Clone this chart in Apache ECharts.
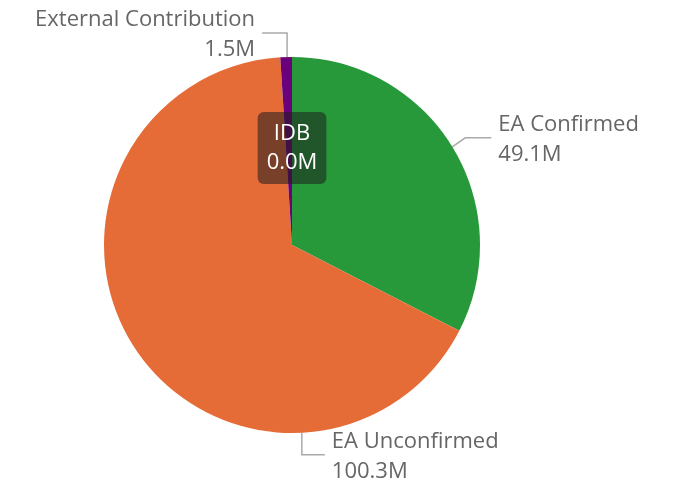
<!DOCTYPE html>
<html>
<head>
<meta charset="utf-8">
<script src="https://cdn.jsdelivr.net/npm/echarts@6/dist/echarts.min.js"></script>
<style>html,body{margin:0;padding:0;background:#fff}#c{width:678px;height:487px}</style>
</head>
<body>
<div id="c"></div>
<script>
const categories = ['EA Confirmed', 'EA Unconfirmed', 'External Contribution', 'IDB'];
const values = [49.1, 100.3, 1.5, 0.0];
const colors = ['#27993B', '#E66C37', '#6B007B', '#444444'];

const CX = 292, CY = 245, R = 188;
// label anchor layout: angle on the rim (deg, clockwise from top), line segment offsets, text side
const labelAnchors = {
  0: { ang: 58.5, d1: [13, -9], d2: 26, side: 'right' },
  1: { ang: 177, d1: [0, 22], d2: 23, side: 'right' },
  2: { ang: -1.5, d1: [0, -24], d2: -25, side: 'left' }
};

const chart = echarts.init(document.getElementById('c'));
const fontFamily = '"Open Sans", "Noto Sans", sans-serif';

chart.setOption({
  animation: false,
  series: [{
    type: 'pie',
    center: [CX, CY],
    radius: R,
    startAngle: 90,
    clockwise: true,
    avoidLabelOverlap: false,
    itemStyle: { borderWidth: 0 },
    emphasis: { disabled: true },
    label: {
      show: true,
      position: 'outside',
      color: '#666666',
      fontFamily: fontFamily,
      fontSize: 22,
      lineHeight: 30,
      formatter: p => p.name + '\n' + p.value.toFixed(1) + 'M'
    },
    labelLine: { show: true, lineStyle: { color: '#aaaaaa', width: 1.5 } },
    labelLayout: function (params) {
      const a = labelAnchors[params.dataIndex];
      if (!a) return {};
      const rad = a.ang * Math.PI / 180;
      const p0 = [CX + R * Math.sin(rad), CY - R * Math.cos(rad)];
      const p1 = [p0[0] + a.d1[0], p0[1] + a.d1[1]];
      const p2 = [p1[0] + a.d2, p1[1]];
      const gap = 7;
      return {
        x: a.side === 'right' ? p2[0] + gap : p2[0] - gap,
        y: p2[1] + 2,
        align: a.side === 'right' ? 'left' : 'right',
        verticalAlign: 'middle',
        labelLinePoints: [p0, p1, p2]
      };
    },
    data: categories.map((name, i) => {
      const item = { name: name, value: values[i], itemStyle: { color: colors[i] } };
      if (name === 'IDB') {
        item.label = {
          position: 'inside',
          color: '#ffffff',
          backgroundColor: 'rgba(30,30,30,0.55)',
          borderRadius: 6,
          padding: [7, 9, 7, 9],
          lineHeight: 29,
          align: 'center'
        };
        item.labelLine = { show: false };
      }
      return item;
    })
  }]
});
</script>
</body>
</html>
